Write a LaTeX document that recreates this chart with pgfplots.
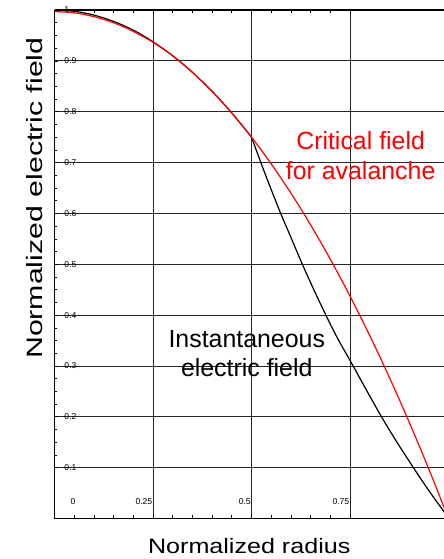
\documentclass[border=0pt]{standalone}
\usepackage{fontspec}
\setmainfont{Liberation Sans}
\usepackage{graphicx}
\usepackage{pgfplots}
\pgfplotsset{compat=1.18}
\begin{document}
\begin{tikzpicture}
\useasboundingbox (-54.5bp,-40.5bp) rectangle (389.5bp,518.5bp);
\begin{axis}[
  scale only axis,
  width=389.5bp, height=508.5bp,
  xmin=0, xmax=0.9886, ymin=0, ymax=1,
  axis y line*=left,
  axis x line*=box,
  axis line style={black, line width=1.1bp},
  xtick={0,0.25,0.5,0.75},
  xticklabels={\makebox[0pt][l]{\hspace{17.4bp}0},0.25,0.5,0.75},
  minor x tick num=4,
  ytick={0.1,0.2,0.3,0.4,0.5,0.6,0.7,0.8,0.9,1},
  yticklabels={0.1,0.2,0.3,0.4,0.5,0.6,0.7,0.8,0.9,1},
  minor y tick num=3,
  tick align=inside,
  major tick length=4bp, minor tick length=3bp,
  tick style={black, line width=0.6bp},
  xticklabel style={anchor=base east, inner sep=0pt, yshift=13.8bp, xshift=-0.6bp, font=\fontsize{8.6}{10}\selectfont},
  yticklabel style={anchor=west, inner sep=0pt, xshift=9.8bp, font=\fontsize{8.6}{10}\selectfont},
  xmajorgrids, ymajorgrids,
  major grid style={black!85, line width=0.7bp},
  xlabel={\fontsize{21}{25}\selectfont\scalebox{1.2}[1]{Normalized radius}},
  xlabel style={at={(rel axis cs:0.5,-0.0684)}, anchor=base},
  ylabel={\fontsize{22.3}{26}\selectfont\scalebox{1.363}[1]{Normalized electric field}},
  ylabel style={at={(rel axis cs:-0.0303,0.63)}, anchor=base, rotate=0},
  clip=true,
]
% Instantaneous electric field (black)
\addplot[black, line width=1.2bp, smooth] coordinates {
(0,1.0) (0.05,0.9975) (0.1,0.99) (0.15,0.9775) (0.2,0.9605) (0.25,0.9375)
(0.3,0.91) (0.35,0.8775) (0.4,0.84) (0.45,0.7975) (0.5,0.75)
};
\addplot[black, line width=1.2bp, smooth] coordinates {
(0.5,0.75) (0.53,0.687) (0.55,0.647) (0.574,0.6) (0.6,0.553) (0.629,0.5)
(0.66,0.447) (0.695,0.39) (0.72,0.352) (0.75,0.311) (0.79,0.255) (0.83,0.2)
(0.87,0.149) (0.911,0.1) (0.95,0.055) (0.989,0.013) (1.0,0.0)
};
% Critical field for avalanche (red)
\addplot[red, line width=1.2bp, smooth] coordinates {
(0,0.997) (0.05,0.9945) (0.1,0.987) (0.15,0.975) (0.2,0.958) (0.25,0.9365)
(0.3,0.91) (0.35,0.8775) (0.4,0.84) (0.45,0.7975) (0.5,0.75) (0.55,0.6975)
(0.6,0.64) (0.65,0.5775) (0.7,0.51) (0.75,0.4375) (0.8,0.36) (0.85,0.2775)
(0.9,0.19) (0.95,0.0975) (1.0,0.0)
};
\node[red, anchor=base, inner sep=0pt, font=\fontsize{25}{29}\selectfont] at (axis cs:0.777,0.7253) {Critical field};
\node[red, anchor=base, inner sep=0pt, font=\fontsize{25}{29}\selectfont] at (axis cs:0.777,0.667) {for avalanche};
\node[black, anchor=base, inner sep=0pt, font=\fontsize{25}{29}\selectfont] at (axis cs:0.488,0.3356) {Instantaneous};
\node[black, anchor=base, inner sep=0pt, font=\fontsize{25}{29}\selectfont] at (axis cs:0.488,0.2786) {electric field};
\end{axis}
\end{tikzpicture}
\end{document}
